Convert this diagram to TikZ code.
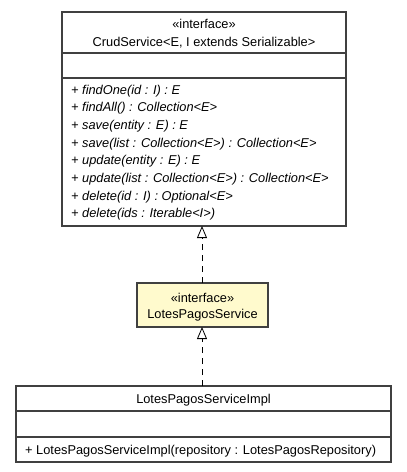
\documentclass[tikz,border=0pt]{standalone}
\usepackage{fontspec}
\setmainfont{Liberation Sans}
\usetikzlibrary{arrows.meta}
\definecolor{umlline}{HTML}{404040}
\definecolor{umlfill}{HTML}{FFFACD}
\begin{document}
\begin{tikzpicture}[x=1pt,y=-1pt,
  box/.style={draw=umlline,line width=1.1pt},
  lbl/.style={inner sep=0pt,font=\fontsize{12.8}{14}\selectfont,anchor=base},
  meth/.style={lbl,anchor=base west,font=\fontsize{12.8}{14}\selectfont\itshape},
  realize/.style={draw=black,line width=0.8pt,dash pattern=on 6pt off 5pt,
    -{Triangle[open,width=10pt,length=12pt,line width=0.8pt]}}]
\useasboundingbox (0,0) rectangle (407,472);
% CrudService interface
\draw[box,fill=white] (62,12) rectangle (346,226);
\draw[box] (62,53) -- (346,53);
\draw[box] (62,78) -- (346,78);
\node[lbl] (crudst) at (204,28) {«interface»};
\node[lbl] (crudname) at (204,46.5) {CrudService<E, I extends Serializable>};
\node[meth] (m1) at (71,94) {+ findOne(id : I) : E};
\node[meth] (m2) at (71,111.7) {+ findAll() : Collection<E>};
\node[meth] (m3) at (71,129.4) {+ save(entity : E) : E};
\node[meth] (m4) at (71,147.1) {+ save(list : Collection<E>) : Collection<E>};
\node[meth] (m5) at (71,164.8) {+ update(entity : E) : E};
\node[meth] (m6) at (71,182.5) {+ update(list : Collection<E>) : Collection<E>};
\node[meth] (m7) at (71,200.2) {+ delete(id : I) : Optional<E>};
\node[meth] (m8) at (71,217.9) {+ delete(ids : Iterable<I>)};
\coordinate (crudbot) at (202,226);
% LotesPagosService interface
\draw[box,fill=umlfill] (137,283) rectangle (268,327);
\node[lbl] (svcst) at (202.5,302) {«interface»};
\node[lbl] (svcname) at (202.5,318) {LotesPagosService};
\coordinate (svctop) at (202,283);
\coordinate (svcbot) at (202,327);
% LotesPagosServiceImpl class
\draw[box,fill=white] (16,386) rectangle (391,462);
\draw[box] (16,411) -- (391,411);
\draw[box] (16,437) -- (391,437);
\node[lbl] (implname) at (203.5,403) {LotesPagosServiceImpl};
\node[lbl,anchor=base west] (implctor) at (25,454.5) {+ LotesPagosServiceImpl(repository : LotesPagosRepository)};
\coordinate (impltop) at (202,386);
% realization arrows
\draw[realize] (svctop) -- (crudbot);
\draw[realize] (impltop) -- (svcbot);
\end{tikzpicture}
\end{document}
